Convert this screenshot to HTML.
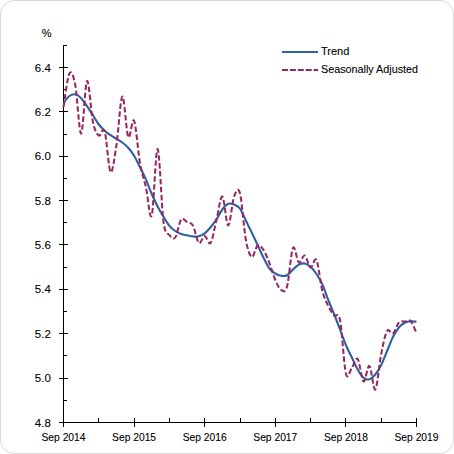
<!DOCTYPE html>
<html><head><meta charset="utf-8"><style>
html,body{margin:0;padding:0;background:#fff;}
body{width:454px;height:454px;overflow:hidden;position:relative;}
.frame{position:absolute;left:0;top:0;width:452px;height:452px;border:1px solid #d9d9d9;border-radius:14px;}
svg{position:absolute;left:0;top:0;}
text{font-family:"Liberation Sans",sans-serif;font-size:11px;fill:#000;stroke:#000;stroke-width:0.1px;}
</style></head><body>
<div class="frame"></div>
<svg width="454" height="454" viewBox="0 0 454 454">
<g fill="#000" shape-rendering="crispEdges">
<rect x="63" y="45" width="1" height="382"/>
<rect x="63" y="422" width="354" height="1"/>
<rect x="59" y="67" width="9" height="1"/><rect x="63" y="89" width="4" height="1"/><rect x="59" y="111" width="9" height="1"/><rect x="63" y="134" width="4" height="1"/><rect x="59" y="156" width="9" height="1"/><rect x="63" y="178" width="4" height="1"/><rect x="59" y="200" width="9" height="1"/><rect x="63" y="222" width="4" height="1"/><rect x="59" y="244" width="9" height="1"/><rect x="63" y="267" width="4" height="1"/><rect x="59" y="289" width="9" height="1"/><rect x="63" y="311" width="4" height="1"/><rect x="59" y="333" width="9" height="1"/><rect x="63" y="355" width="4" height="1"/><rect x="59" y="378" width="9" height="1"/><rect x="63" y="400" width="4" height="1"/><rect x="59" y="422" width="9" height="1"/><rect x="63" y="45" width="4" height="1"/><rect x="63" y="418" width="1" height="9"/><rect x="98" y="418" width="1" height="4"/><rect x="134" y="418" width="1" height="9"/><rect x="169" y="418" width="1" height="4"/><rect x="204" y="418" width="1" height="9"/><rect x="240" y="418" width="1" height="4"/><rect x="275" y="418" width="1" height="9"/><rect x="310" y="418" width="1" height="4"/><rect x="345" y="418" width="1" height="9"/><rect x="381" y="418" width="1" height="4"/><rect x="416" y="418" width="1" height="9"/>
</g>
<text x="51.5" y="37" text-anchor="end">%</text>
<text x="50.8" y="72" text-anchor="end" style="font-size:11.5px">6.4</text><text x="50.8" y="116" text-anchor="end" style="font-size:11.5px">6.2</text><text x="50.8" y="160" text-anchor="end" style="font-size:11.5px">6.0</text><text x="50.8" y="205" text-anchor="end" style="font-size:11.5px">5.8</text><text x="50.8" y="249" text-anchor="end" style="font-size:11.5px">5.6</text><text x="50.8" y="293" text-anchor="end" style="font-size:11.5px">5.4</text><text x="50.8" y="338" text-anchor="end" style="font-size:11.5px">5.2</text><text x="50.8" y="382" text-anchor="end" style="font-size:11.5px">5.0</text><text x="50.8" y="427" text-anchor="end" style="font-size:11.5px">4.8</text>
<text x="63.5" y="440.8" text-anchor="middle" textLength="44" lengthAdjust="spacingAndGlyphs">Sep 2014</text><text x="134.1" y="440.8" text-anchor="middle" textLength="44" lengthAdjust="spacingAndGlyphs">Sep 2015</text><text x="204.7" y="440.8" text-anchor="middle" textLength="44" lengthAdjust="spacingAndGlyphs">Sep 2016</text><text x="275.3" y="440.8" text-anchor="middle" textLength="44" lengthAdjust="spacingAndGlyphs">Sep 2017</text><text x="345.9" y="440.8" text-anchor="middle" textLength="44" lengthAdjust="spacingAndGlyphs">Sep 2018</text><text x="416.5" y="440.8" text-anchor="middle" textLength="44" lengthAdjust="spacingAndGlyphs">Sep 2019</text>
<path d="M63.50,103.00 C64.48,101.83 67.42,97.45 69.38,96.00 C71.34,94.55 73.31,93.93 75.27,94.30 C77.23,94.67 79.19,96.22 81.15,98.20 C83.11,100.18 85.07,103.35 87.03,106.20 C88.99,109.05 90.96,112.25 92.92,115.30 C94.88,118.35 96.84,121.93 98.80,124.50 C100.76,127.07 102.72,128.92 104.68,130.70 C106.64,132.48 108.61,133.85 110.57,135.20 C112.53,136.55 114.49,137.58 116.45,138.80 C118.41,140.02 120.37,141.00 122.33,142.50 C124.29,144.00 126.26,145.58 128.22,147.80 C130.18,150.02 132.14,152.57 134.10,155.80 C136.06,159.03 138.02,163.27 139.98,167.20 C141.94,171.13 143.91,174.93 145.87,179.40 C147.83,183.87 149.79,189.48 151.75,194.00 C153.71,198.52 155.67,202.70 157.63,206.50 C159.59,210.30 161.56,213.58 163.52,216.80 C165.48,220.02 167.44,223.43 169.40,225.80 C171.36,228.17 173.32,229.62 175.28,231.00 C177.24,232.38 179.21,233.38 181.17,234.10 C183.13,234.82 185.09,234.90 187.05,235.30 C189.01,235.70 190.97,236.35 192.93,236.50 C194.89,236.65 196.86,236.73 198.82,236.20 C200.78,235.67 202.74,234.80 204.70,233.30 C206.66,231.80 208.62,229.52 210.58,227.20 C212.54,224.88 214.51,222.35 216.47,219.40 C218.43,216.45 220.39,212.10 222.35,209.50 C224.31,206.90 226.27,204.62 228.23,203.80 C230.19,202.98 232.16,203.78 234.12,204.60 C236.08,205.42 238.04,206.05 240.00,208.70 C241.96,211.35 243.92,216.52 245.88,220.50 C247.84,224.48 249.81,228.52 251.77,232.60 C253.73,236.68 255.69,240.80 257.65,245.00 C259.61,249.20 261.57,253.88 263.53,257.80 C265.49,261.72 267.46,265.88 269.42,268.50 C271.38,271.12 273.34,272.28 275.30,273.50 C277.26,274.72 279.22,275.52 281.18,275.80 C283.14,276.08 285.11,276.23 287.07,275.20 C289.03,274.17 290.99,271.37 292.95,269.60 C294.91,267.83 296.87,265.62 298.83,264.60 C300.79,263.58 302.76,263.13 304.72,263.50 C306.68,263.87 308.64,265.05 310.60,266.80 C312.56,268.55 314.52,271.07 316.48,274.00 C318.44,276.93 320.41,280.07 322.37,284.40 C324.33,288.73 326.29,295.07 328.25,300.00 C330.21,304.93 332.17,309.08 334.13,314.00 C336.09,318.92 338.06,324.33 340.02,329.50 C341.98,334.67 343.94,340.37 345.90,345.00 C347.86,349.63 349.82,353.22 351.78,357.30 C353.74,361.38 355.71,366.08 357.67,369.50 C359.63,372.92 361.59,376.18 363.55,377.80 C365.51,379.42 367.47,379.75 369.43,379.20 C371.39,378.65 373.36,376.87 375.32,374.50 C377.28,372.13 379.24,368.92 381.20,365.00 C383.16,361.08 385.12,355.67 387.08,351.00 C389.04,346.33 391.01,340.92 392.97,337.00 C394.93,333.08 396.89,329.87 398.85,327.50 C400.81,325.13 402.77,323.85 404.73,322.80 C406.69,321.75 408.66,321.37 410.62,321.20 C412.58,321.03 415.52,321.70 416.50,321.80" fill="none" stroke="#2F60A0" stroke-width="2.1"/>
<path d="M63.50,107.00 C64.48,101.42 67.42,77.17 69.38,73.50 C71.34,69.83 73.31,75.00 75.27,85.00 C77.23,95.00 79.19,134.17 81.15,133.50 C83.11,132.83 85.07,82.92 87.03,81.00 C88.99,79.08 90.96,112.92 92.92,122.00 C94.88,131.08 96.84,133.92 98.80,135.50 C100.76,137.08 102.72,125.42 104.68,131.50 C106.64,137.58 108.61,169.75 110.57,172.00 C112.53,174.25 114.49,157.58 116.45,145.00 C118.41,132.42 120.37,97.83 122.33,96.50 C124.29,95.17 126.26,132.95 128.22,137.00 C130.18,141.05 132.14,116.47 134.10,120.80 C136.06,125.13 138.02,151.97 139.98,163.00 C141.94,174.03 143.91,178.25 145.87,187.00 C147.83,195.75 149.79,221.83 151.75,215.50 C153.71,209.17 155.67,147.92 157.63,149.00 C159.59,150.08 161.56,207.67 163.52,222.00 C165.48,236.33 167.44,232.42 169.40,235.00 C171.36,237.58 173.32,240.08 175.28,237.50 C177.24,234.92 179.21,222.08 181.17,219.50 C183.13,216.92 185.09,221.00 187.05,222.00 C189.01,223.00 190.97,222.00 192.93,225.50 C194.89,229.00 196.86,241.25 198.82,243.00 C200.78,244.75 202.74,236.00 204.70,236.00 C206.66,236.00 208.62,245.67 210.58,243.00 C212.54,240.33 214.51,227.75 216.47,220.00 C218.43,212.25 220.39,195.58 222.35,196.50 C224.31,197.42 226.27,225.50 228.23,225.50 C230.19,225.50 232.16,201.83 234.12,196.50 C236.08,191.17 238.04,186.25 240.00,193.50 C241.96,200.75 243.92,229.42 245.88,240.00 C247.84,250.58 249.81,256.08 251.77,257.00 C253.73,257.92 255.69,246.67 257.65,245.50 C259.61,244.33 261.57,247.08 263.53,250.00 C265.49,252.92 267.46,258.00 269.42,263.00 C271.38,268.00 273.34,275.50 275.30,280.00 C277.26,284.50 279.22,288.92 281.18,290.00 C283.14,291.08 285.11,293.50 287.07,286.50 C289.03,279.50 290.99,252.00 292.95,248.00 C294.91,244.00 296.87,261.25 298.83,262.50 C300.79,263.75 302.76,254.67 304.72,255.50 C306.68,256.33 308.64,266.75 310.60,267.50 C312.56,268.25 314.52,256.08 316.48,260.00 C318.44,263.92 320.41,283.33 322.37,291.00 C324.33,298.67 326.29,301.92 328.25,306.00 C330.21,310.08 332.17,313.17 334.13,315.50 C336.09,317.83 338.06,310.33 340.02,320.00 C341.98,329.67 343.94,365.50 345.90,373.50 C347.86,381.50 349.82,370.42 351.78,368.00 C353.74,365.58 355.71,356.75 357.67,359.00 C359.63,361.25 361.59,380.33 363.55,381.50 C365.51,382.67 367.47,364.67 369.43,366.00 C371.39,367.33 373.36,391.50 375.32,389.50 C377.28,387.50 379.24,363.75 381.20,354.00 C383.16,344.25 385.12,334.42 387.08,331.00 C389.04,327.58 391.01,334.92 392.97,333.50 C394.93,332.08 396.89,324.50 398.85,322.50 C400.81,320.50 402.77,321.75 404.73,321.50 C406.69,321.25 408.66,319.08 410.62,321.00 C412.58,322.92 415.52,331.00 416.50,333.00" fill="none" stroke="#962860" stroke-width="2.05" stroke-dasharray="5.4 2.5"/>
<rect x="282" y="51" width="36" height="2" fill="#2F60A0"/>
<path d="M282,70 H318" stroke="#962860" stroke-width="2" stroke-dasharray="6 1.9"/>
<text x="321" y="55">Trend</text>
<text x="321" y="73" textLength="97" lengthAdjust="spacingAndGlyphs">Seasonally Adjusted</text>
</svg>
</body></html>
